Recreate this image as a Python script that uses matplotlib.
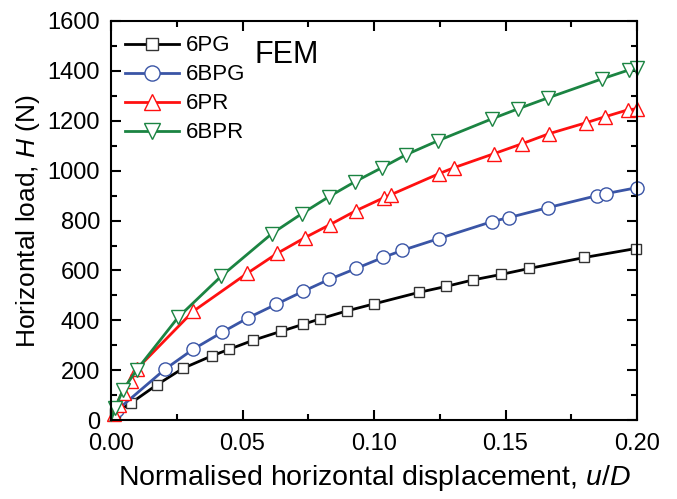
import matplotlib
matplotlib.use("Agg")
import matplotlib.pyplot as plt
from matplotlib.ticker import MultipleLocator

plt.rcParams['font.family'] = ['Liberation Sans', 'DejaVu Sans']
plt.rcParams['mathtext.fontset'] = 'custom'
plt.rcParams['mathtext.it'] = 'Liberation Sans:italic'
plt.rcParams['mathtext.rm'] = 'Liberation Sans'

# 6PG
pg_x = [0.0, 0.0015, 0.0075, 0.0175, 0.0274, 0.0384, 0.0449, 0.054, 0.0646, 0.073,
        0.0795, 0.0897, 0.1, 0.117, 0.1274, 0.1376, 0.1483, 0.159, 0.180, 0.1996]
pg_y = [0, 28, 68, 142, 208, 258, 284, 320, 356, 384,
        406, 438, 466, 512, 536, 562, 584, 608, 652, 688]

# 6BPG
bpg_x = [0.0, 0.0023, 0.0205, 0.0312, 0.0422, 0.0521, 0.0627, 0.073, 0.0829, 0.0932,
         0.1034, 0.1106, 0.1247, 0.1449, 0.1513, 0.1662, 0.1848, 0.1882, 0.2]
bpg_y = [0, 40, 204, 284, 352, 410, 464, 516, 564, 608,
         652, 680, 728, 796, 812, 852, 900, 908, 932]

# 6PR
pr_x = [0.0, 0.001, 0.003, 0.005, 0.0075, 0.0099, 0.0312, 0.0517, 0.0631, 0.0738,
        0.0833, 0.0932, 0.1038, 0.1065, 0.1247, 0.1304, 0.1456, 0.1563, 0.1665,
        0.1806, 0.1878, 0.1966, 0.2]
pr_y = [0, 24, 62, 108, 158, 206, 436, 588, 668, 732,
        784, 840, 892, 904, 988, 1012, 1068, 1108, 1148,
        1192, 1216, 1244, 1248]

# 6BPR
bpr_x = [0.0, 0.0015, 0.0045, 0.0098, 0.0255, 0.0418, 0.0612, 0.0726, 0.0829, 0.0928,
         0.103, 0.1122, 0.1243, 0.1449, 0.1548, 0.1662, 0.1867, 0.1970, 0.2]
bpr_y = [0, 48, 120, 202, 412, 576, 748, 828, 896, 956,
         1012, 1064, 1120, 1208, 1248, 1292, 1368, 1404, 1412]


def main():
    fig = plt.figure(figsize=(6.77, 4.99), dpi=100)
    ax = fig.add_axes([0.164, 0.158, 0.777, 0.800])

    series = [
        (pg_x, pg_y, '6PG', 'black', 's', 7.5, '#333333'),
        (bpg_x, bpg_y, '6BPG', '#3a55a6', 'o', 9.5, '#3a55a6'),
        (pr_x, pr_y, '6PR', '#ff1010', '^', 10, '#ff1010'),
        (bpr_x, bpr_y, '6BPR', '#1b8442', 'v', 10, '#1b8442'),
    ]
    for x, y, label, color, marker, ms, edge in series:
        ax.plot(x, y, color=color, lw=2, label=label, marker=marker, ms=ms,
                mfc='white', mec=edge, mew=1.0, markevery=range(1, len(x)),
                clip_on=False)

    ax.set_xlim(0, 0.2)
    ax.set_ylim(0, 1600)
    ax.xaxis.set_major_locator(MultipleLocator(0.05))
    ax.xaxis.set_minor_locator(MultipleLocator(0.025))
    ax.yaxis.set_major_locator(MultipleLocator(200))
    ax.yaxis.set_minor_locator(MultipleLocator(100))
    ax.xaxis.set_major_formatter(lambda v, p: f"{v:.2f}")
    ax.tick_params(which='both', direction='in', top=True, right=True, width=1.5)
    ax.tick_params(which='major', length=7, labelsize=17)
    ax.tick_params(axis='x', which='major', pad=9)
    ax.tick_params(axis='y', which='major', pad=8)
    ax.tick_params(which='minor', length=4)
    for s in ax.spines.values():
        s.set_linewidth(1.5)

    ax.set_xlabel('Normalised horizontal displacement, $\\mathit{u/D}$', fontsize=20.5, labelpad=6)
    ax.set_ylabel('Horizontal load, $\\mathit{H}$ (N)', fontsize=19, labelpad=4)

    ax.legend(loc='upper left', frameon=False, fontsize=16, handlelength=2.4,
              handletextpad=0.3, labelspacing=0.36, borderaxespad=0.3,
              borderpad=0.35, bbox_to_anchor=(0.0, 1.0), markerscale=1.15)
    ax.text(0.272, 0.895, 'FEM', transform=ax.transAxes, fontsize=22,
            va='baseline', ha='left')

    fig.savefig('out.png', dpi=100)


if __name__ == "__main__":
    main()
